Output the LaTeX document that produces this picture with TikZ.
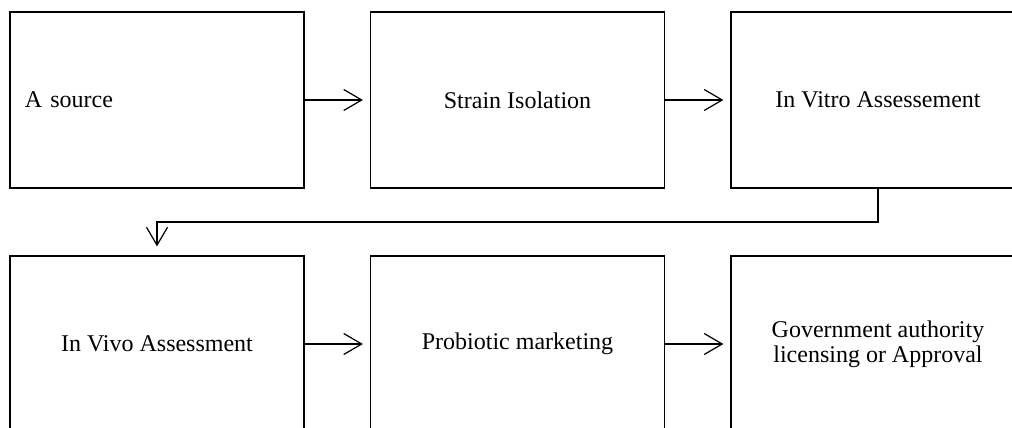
\documentclass[tikz,border=0pt]{standalone}
\usepackage{fontspec}
\setmainfont{Liberation Serif}
\usepackage{tikz}
\usetikzlibrary{arrows.meta,positioning}
\tikzset{
	stage/.style    = {draw, rectangle, minimum height = 88pt,
		minimum width = 147pt, font=\fontsize{12}{12.5}\selectfont, align=center},
	leftstage/.style = {stage, text width = 132pt, align=left, inner xsep = 7.5pt},
	link/.style     = {-{Straight Barb[length=9pt,width=10.5pt]}, shorten >= 3.5pt}
}

\begin{document}
\begin{tikzpicture}[x=0.5pt, y=-0.5pt, line width=0.6pt]
	\useasboundingbox (0,0) rectangle (1012,428);
	\draw
	node at (157,100) [leftstage] (s1) {A source}
	node at (517.5,100) [stage] (s2) {Strain Isolation}
	node at (878,100) [stage] (s3) {In Vitro Assessement}
	node at (157,344) [stage] (s4) {In Vivo Assessment}
	node at (517.5,344) [stage] (s5) {Probiotic marketing}
	node at (878,344) [stage] (s6) {Government authority\\licensing or Approval};
	\coordinate (turn) at (878,222);

	\draw[link](s1)--(s2);
	\draw[link](s2)--(s3);
	\draw[link, shorten >= 4.5pt](s3.south)--(turn)-|(s4.north);
	\draw[link](s4)--(s5);
	\draw[link](s5)--(s6);
\end{tikzpicture}
\end{document}
